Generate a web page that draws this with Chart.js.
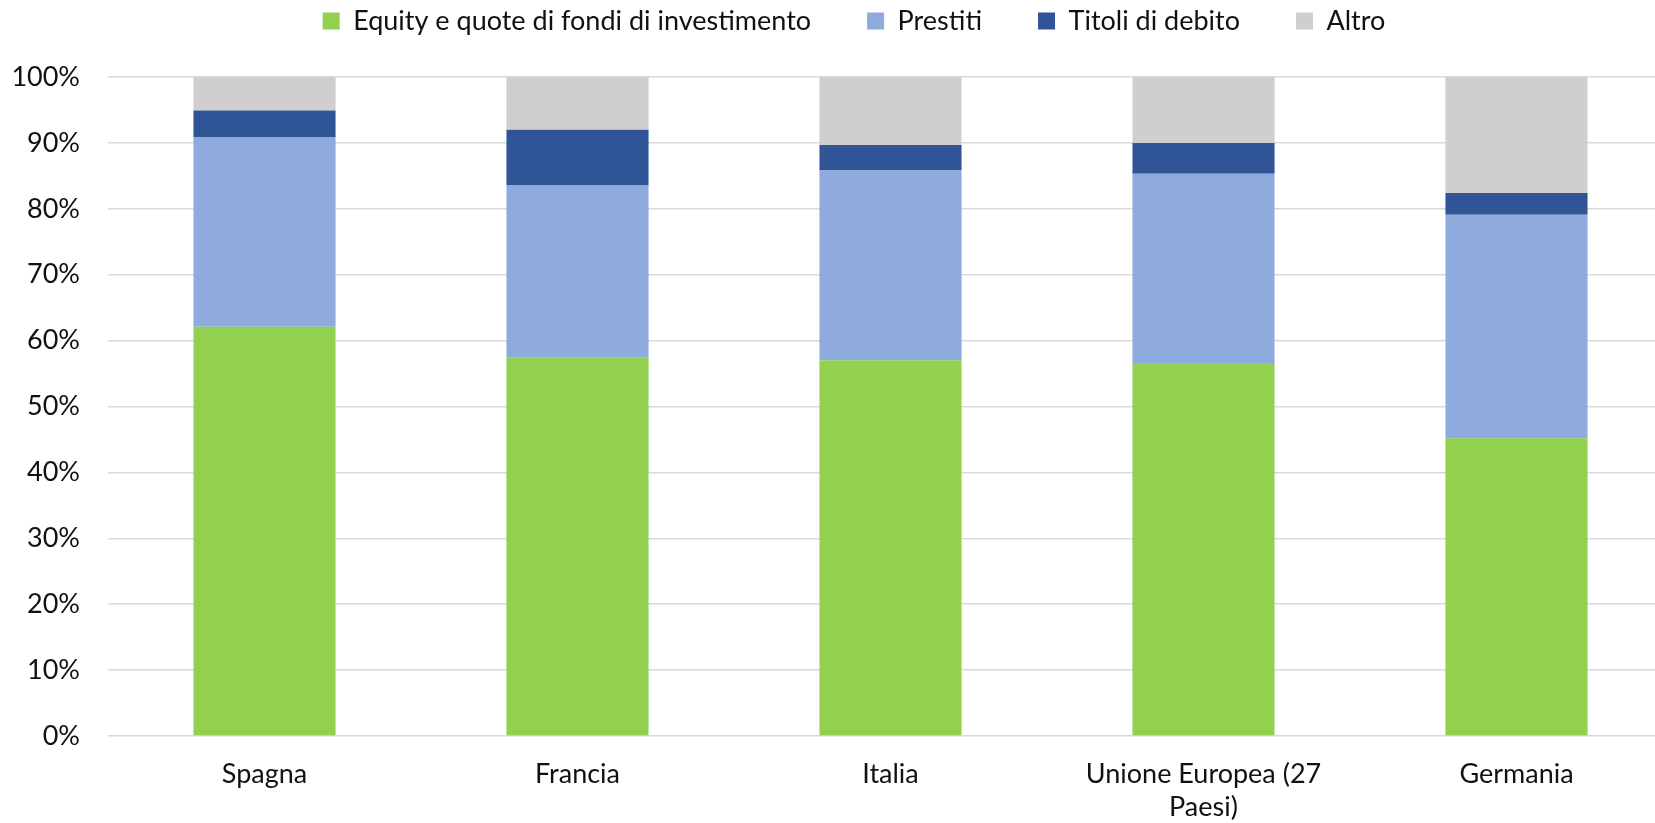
<!DOCTYPE html>
<html>
<head>
<meta charset="utf-8">
<script src="https://cdn.jsdelivr.net/npm/chart.js@4/dist/chart.umd.min.js"></script>
<style>
body { margin: 0; overflow: hidden; background: #fff; }
#wrap { width: 1732px; height: 823px; }
</style>
</head>
<body>
<div id="wrap"><canvas id="compositionChart"></canvas></div>
<script>
var paesi = ['Spagna', 'Francia', 'Italia', ['Unione Europea (27', 'Paesi)'], 'Germania'];
var equity = [62.1, 57.4, 57.0, 56.6, 45.2];
var prestiti = [28.8, 26.2, 28.8, 28.7, 33.9];
var titoli = [4.0, 8.4, 3.9, 4.7, 3.3];
var altro = [5.1, 8.0, 10.3, 10.0, 17.6];
var yTicks = [0, 10, 20, 30, 40, 50, 60, 70, 80, 90, 100];

var FONT = 'Lato, "Open Sans", sans-serif';

makeDataset = function (label, values, color) {
    return {
        label: label,
        data: values,
        backgroundColor: color,
        borderWidth: 0,
        categoryPercentage: 1,
        barPercentage: 0.454
    };
}

// legend padding is large for horizontal spacing, so pin its height by hand
// and nudge it right so it sits centred like the original
var legendPlacement = {
    id: 'legendPlacement',
    afterInit: function (chart) {
        var fit = chart.legend.fit;
        chart.legend.fit = function () {
            fit.call(this);
            this.height = 125.5;
        };
    },
    afterLayout: function (chart) {
        chart.legend.left += 17.5;
        chart.legend.right += 17.5;
    }
};

var ctx = document.getElementById('compositionChart');
var compositionChart = new Chart(ctx, {
    type: 'bar',
    data: {
        labels: paesi,
        datasets: [
            makeDataset('Equity e quote di fondi di investimento', equity, '#92D050'),
            makeDataset('Prestiti', prestiti, '#8FAADC'),
            makeDataset('Titoli di debito', titoli, '#2F5597'),
            makeDataset('Altro', altro, '#D0CECE')
        ]
    },
    plugins: [legendPlacement],
    options: {
        responsive: true,
        maintainAspectRatio: false,
        animation: false,
        layout: {
            padding: { top: -48.5, right: 59, bottom: 2, left: 0 }
        },
        plugins: {
            tooltip: { enabled: false },
            legend: {
                position: 'top',
                labels: {
                    boxWidth: 17,
                    boxHeight: 17,
                    padding: 56,
                    color: '#111',
                    font: { family: FONT, size: 27 }
                }
            }
        },
        scales: {
            x: {
                stacked: true,
                grid: { display: false },
                border: { display: false },
                afterFit: function (axis) {
                    axis.height = 85;
                },
                ticks: {
                    color: '#111',
                    padding: 13,
                    maxRotation: 0,
                    font: { family: FONT, size: 27, lineHeight: 1.25 }
                }
            },
            y: {
                stacked: true,
                min: 0,
                max: 100,
                afterBuildTicks: function (axis) {
                    axis.ticks = yTicks.map(function (v) { return { value: v }; });
                },
                afterFit: function (axis) {
                    axis.width = 108;
                },
                grid: {
                    color: '#D9D9D9',
                    lineWidth: 1.6,
                    drawTicks: false
                },
                border: { display: false },
                ticks: {
                    color: '#111',
                    padding: 28,
                    font: { family: FONT, size: 27 },
                    callback: function (v) { return v + '%'; }
                }
            }
        }
    }
});
</script>
</body>
</html>
